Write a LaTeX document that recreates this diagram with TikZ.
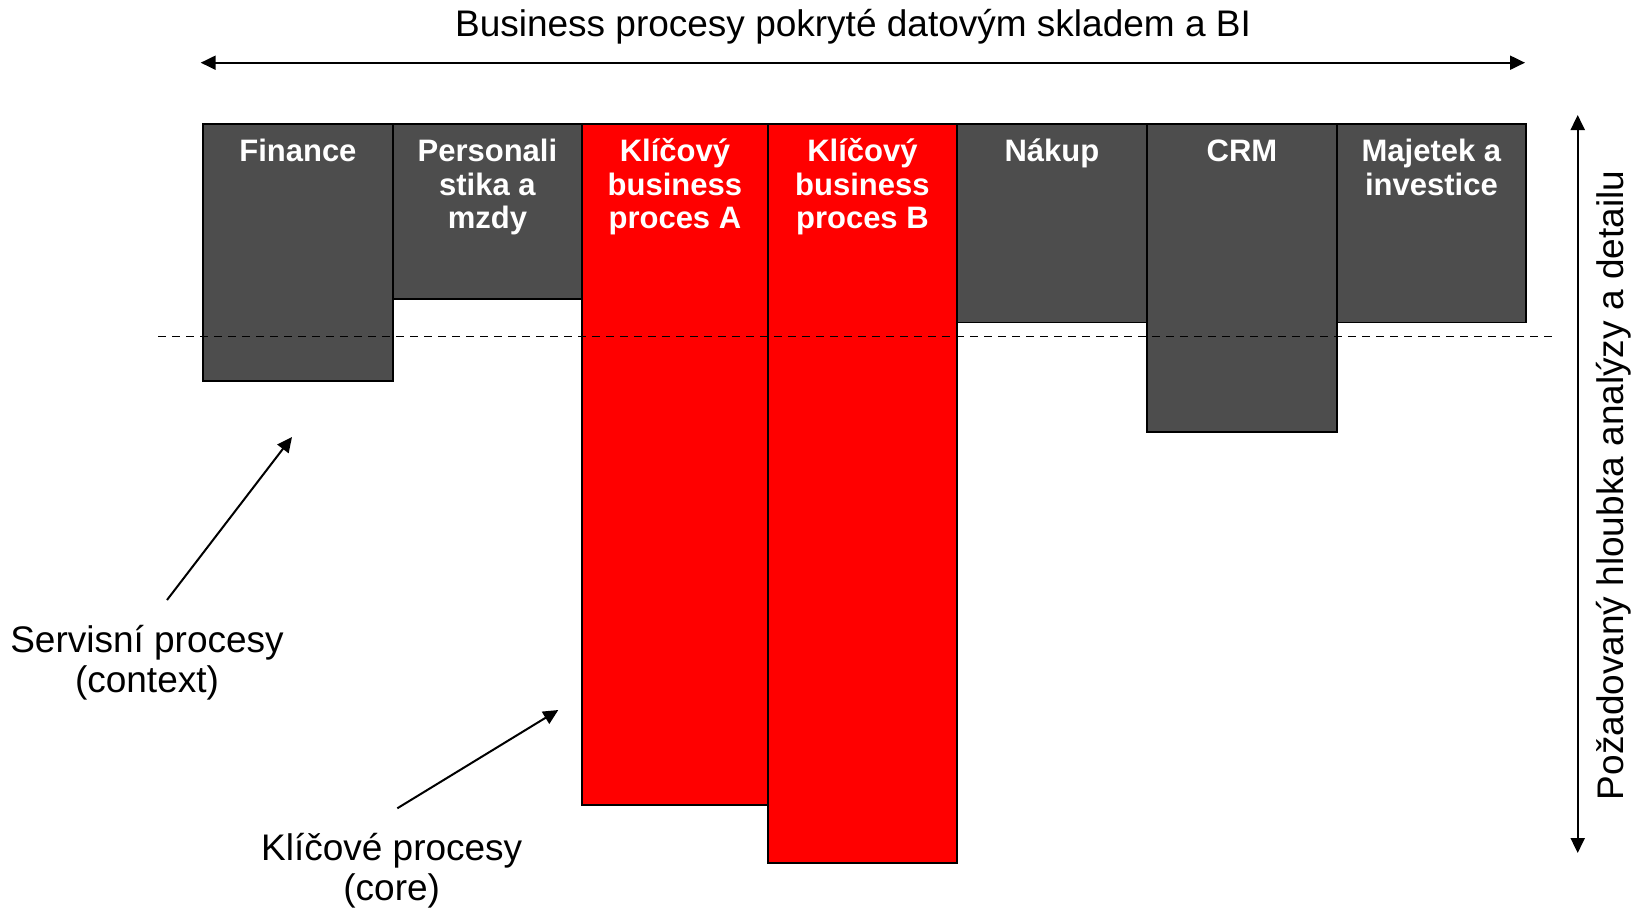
\documentclass[tikz,border=0pt]{standalone}
\usepackage{fontspec}
\setmainfont{Liberation Sans}
\usetikzlibrary{arrows.meta}
\definecolor{procgray}{HTML}{4D4D4D}
\definecolor{procred}{HTML}{FF0000}
\tikzset{
	proc/.style    = {draw, line width=1.8pt, rectangle, anchor=north west,
		fill=procgray, minimum width=190pt},
	core/.style    = {proc, fill=procred},
	plabel/.style  = {anchor=base, align=center, text=white, inner sep=0pt,
		font=\fontsize{31}{33.5}\selectfont\bfseries},
	note/.style    = {anchor=base, align=center, inner sep=0pt,
		font=\fontsize{37}{40}\selectfont},
	level/.style   = {line width=1.8pt, dash pattern=on 8pt off 6pt}
}

\begin{document}
\begin{tikzpicture}[auto, x=1pt, y=-1pt, line width=2pt, >={Triangle[length=15pt,width=14pt]}]
	\useasboundingbox (0,0) rectangle (1637,907);
	\draw
	node at (202,123) [proc, minimum height=257pt] (fin) {}
	node at (392,123) [proc, minimum height=175pt, minimum width=189pt] (pers) {}
	node at (581,123) [core, minimum height=681pt, minimum width=186pt] (kla) {}
	node at (767,123) [core, minimum height=739pt, minimum width=189pt] (klb) {}
	node at (956,123) [proc, minimum height=198.5pt] (nak) {}
	node at (1146,123) [proc, minimum height=308pt] (crm) {}
	node at (1336,123) [proc, minimum height=198.5pt, minimum width=189pt] (maj) {};
	
	% anchor=base sits on the last line
	\draw
	node at ([yshift=-38.7pt]fin.north) [plabel] (finlbl) {Finance}
	node at ([yshift=-105.7pt]pers.north) [plabel] (perslbl) {Personali\\stika a\\mzdy}
	node at ([yshift=-105.7pt]kla.north) [plabel] (klalbl) {Klíčový\\business\\proces A}
	node at ([yshift=-105.7pt]klb.north) [plabel] (klblbl) {Klíčový\\business\\proces B}
	node at ([yshift=-38.7pt]nak.north) [plabel] (naklbl) {Nákup}
	node at ([yshift=-38.7pt]crm.north) [plabel] (crmlbl) {CRM}
	node at ([yshift=-72.2pt]maj.north) [plabel] (majlbl) {Majetek a\\investice};
	
	\draw
	node at (853,36.7) [note] (title) {Business procesy pokryté datovým skladem a BI}
	node at (1623,485.5) [note, rotate=90] (depth) {Požadovaný hloubka analýzy a detailu}
	node at (147,692.5) [note] (servis) {Servisní procesy\\(context)}
	node at (391.7,900) [note] (klic) {Klíčové procesy\\(core)};
	
	\coordinate (topl) at (200.7,62.7);
	\coordinate (topr) at (1525,62.7);
	\coordinate (deptht) at (1577.7,115);
	\coordinate (depthb) at (1577.7,853);
	\coordinate (levl) at (158,336.5);
	\coordinate (levr) at (1556,336.5);
	\coordinate (servt) at (167,600);
	\coordinate (servh) at (292,437);
	\coordinate (klict) at (397.3,808.3);
	\coordinate (klich) at (558.3,710);
	
	\draw[<->](topl)--(topr);
	\draw[<->](deptht)--(depthb);
	\draw[level](levl)--(levr);
	\draw[->](servt)--(servh);
	\draw[->](klict)--(klich);
\end{tikzpicture}
\end{document}
